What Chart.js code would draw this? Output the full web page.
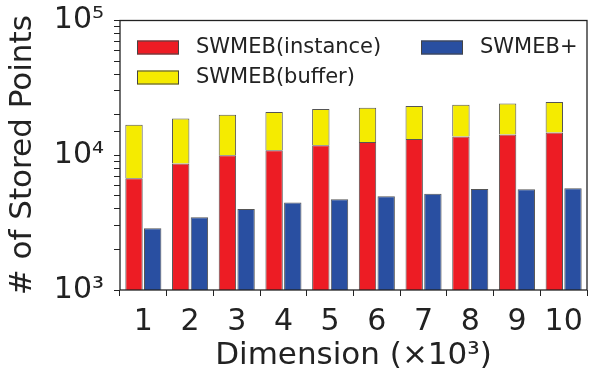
<!DOCTYPE html>
<html lang="en">
<head>
    <meta charset="UTF-8">
    <title>Stored points vs dimension</title>
    <script src="https://cdn.jsdelivr.net/npm/chart.js"></script>
    <style>
        body {
            margin: 0;
            padding: 0;
            background-color: #fff;
        }
        canvas {
            display: block;
        }
    </style>
</head>
<body>
    <canvas id="myChart" width="600" height="375"></canvas>

    <script>
        // data
        const dimensions = ['1', '2', '3', '4', '5', '6', '7', '8', '9', '10'];
        const instanceVals = [6740, 8690, 10000, 10880, 11850, 12530, 13180, 13790, 14270, 14760];
        const bufferVals = [10080, 10020, 10010, 10080, 10190, 10010, 10010, 9930, 9990, 10060];
        const plusVals = [2870, 3460, 3990, 4460, 4720, 4970, 5170, 5620, 5590, 5690];
        const yTickPowers = [3, 4, 5];

        const FONT = "'DejaVu Sans', sans-serif";
        const sup = { '0': '⁰', '1': '¹', '2': '²', '3': '³', '4': '⁴', '5': '⁵', '6': '⁶', '7': '⁷', '8': '⁸', '9': '⁹' };

        // legend drawn inside the plot, two columns like the original
        const insideLegend = {
            id: 'insideLegend',
            afterDraw(chart) {
                const ctx = chart.ctx;
                const a = chart.chartArea;
                const slots = [
                    { ds: 0, x: a.left + 17, y: a.top + 20 },
                    { ds: 1, x: a.left + 17, y: a.top + 50 },
                    { ds: 2, x: a.left + 301, y: a.top + 20 }
                ];
                ctx.save();
                ctx.font = '21px ' + FONT;
                ctx.textBaseline = 'middle';
                slots.forEach(s => {
                    const ds = chart.data.datasets[s.ds];
                    ctx.fillStyle = ds.backgroundColor;
                    ctx.fillRect(s.x, s.y, 42, 14);
                    ctx.strokeStyle = '#444';
                    ctx.lineWidth = 1;
                    ctx.strokeRect(s.x + 0.5, s.y + 0.5, 41, 13);
                    ctx.fillStyle = '#222';
                    ctx.fillText(ds.label, s.x + 59, s.y + 7.5);
                });
                ctx.restore();
            }
        };

        const frame = {
            id: 'frame',
            afterDraw(chart) {
                const ctx = chart.ctx;
                const a = chart.chartArea;
                ctx.save();
                ctx.strokeStyle = '#222';
                ctx.lineWidth = 1.3;
                ctx.strokeRect(a.left, a.top, a.right - a.left, a.bottom - a.top);
                ctx.restore();
            }
        };

        const ctx = document.getElementById('myChart').getContext('2d');
        new Chart(ctx, {
            type: 'bar',
            data: {
                labels: dimensions,
                datasets: [
                    {
                        label: 'SWMEB(instance)',
                        data: instanceVals,
                        stack: 'swmeb',
                        backgroundColor: 'rgb(237,28,36)',
                        borderColor: '#555',
                        borderWidth: 1
                    },
                    {
                        label: 'SWMEB(buffer)',
                        data: bufferVals,
                        stack: 'swmeb',
                        backgroundColor: 'rgb(245,235,0)',
                        borderColor: '#555',
                        borderWidth: 1
                    },
                    {
                        label: 'SWMEB+',
                        data: plusVals,
                        stack: 'plus',
                        backgroundColor: 'rgb(41,79,161)',
                        borderColor: '#555',
                        borderWidth: 1
                    }
                ]
            },
            options: {
                responsive: false,
                animation: false,
                categoryPercentage: 0.8,
                barPercentage: 0.93,
                layout: {
                    padding: { top: 18, right: 13, left: 0, bottom: 0 }
                },
                plugins: {
                    legend: { display: false },
                    tooltip: { enabled: false }
                },
                scales: {
                    x: {
                        stacked: true,
                        grid: {
                            drawOnChartArea: false,
                            drawTicks: true,
                            tickLength: 6,
                            tickColor: '#222'
                        },
                        border: { display: false },
                        ticks: {
                            color: '#222',
                            font: { family: FONT, size: 30 },
                            padding: 8,
                            maxRotation: 0
                        },
                        title: {
                            display: true,
                            text: 'Dimension (×10³)',
                            color: '#222',
                            font: { family: FONT, size: 31 },
                            padding: { top: 0, bottom: 0 }
                        },
                        afterFit: s => { s.height = 85; }
                    },
                    y: {
                        type: 'logarithmic',
                        stacked: true,
                        min: 1000,
                        max: 100000,
                        grid: {
                            drawOnChartArea: false,
                            drawTicks: true,
                            tickLength: 6,
                            tickColor: '#222'
                        },
                        border: { display: false },
                        ticks: {
                            autoSkip: false,
                            color: '#222',
                            font: { family: FONT, size: 30, lineHeight: 0.7 },
                            padding: 10,
                            callback: function (v) {
                                const p = Math.round(Math.log10(v));
                                if (yTickPowers.includes(p) && Math.abs(v - Math.pow(10, p)) < 1e-6) {
                                    return '10' + String(p).split('').map(c => sup[c]).join('');
                                }
                                return '';
                            }
                        },
                        title: {
                            display: true,
                            text: '# of Stored Points',
                            color: '#222',
                            font: { family: FONT, size: 31 },
                            padding: { top: 4, bottom: 0 }
                        },
                        afterFit: s => { s.width = 120; }
                    }
                }
            },
            plugins: [insideLegend, frame]
        });
    </script>
</body>
</html>
